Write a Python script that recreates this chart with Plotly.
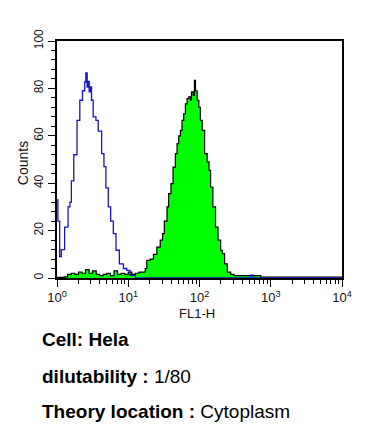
import plotly.graph_objects as go

# Isotype control (blue outline) - FL1-H intensity vs counts
blue_fl1 = [1.0, 1.03, 1.09, 1.15, 1.28, 1.43, 1.52, 1.59, 1.72, 1.91, 2.09, 2.28, 2.45,
            2.54, 2.65, 2.74, 2.83, 2.95, 3.05, 3.22, 3.52, 3.79, 4.23, 4.56, 4.86, 5.25,
            5.66, 6.17, 6.73, 7.50, 8.55, 9.53, 10.6, 12.6, 501, 525, 562, 10000]
blue_counts = [33, 24, 9, 12, 21.5, 30, 32, 41, 52, 66.5, 75, 79, 82.7,
               86.5, 80.6, 83, 78.5, 80.6, 75, 68, 66.5, 62, 52.5, 47, 38, 30,
               24, 18.7, 11.7, 6, 4, 3.2, 1.1, 0, 0, 1.2, 0, 0]

# Antibody stained sample (green filled)
green_fl1 = [1.0, 1.26, 1.41, 1.58, 1.78, 2.0, 2.24, 2.51, 2.82, 3.16, 3.55, 3.98, 4.47,
             5.01, 5.62, 6.31, 7.08, 7.94, 8.91, 10.0, 11.2, 12.6, 14.1, 15.5, 17.3, 18.2,
             20.3, 22.6, 25.2, 28.1, 30.3, 32.1, 35.0, 36.9, 39.8, 42.5, 45.8, 48.4, 51.1,
             54.0, 56.9, 60.1, 63.4, 67.0, 70.6, 74.6, 77.1, 81.5, 84.9, 87.9, 92.7, 97.9,
             103, 109, 118, 128, 136, 143, 154, 168, 182, 198, 209, 225, 246, 274, 305,
             379, 525, 726, 10000]
green_counts = [0.3, 0.5, 1.5, 2, 1.5, 2.5, 2, 3.5, 2, 3, 1.5, 1, 1.5,
                2, 1, 3, 1.5, 2, 1.5, 2.5, 1.5, 2, 2.5, 2.5, 4, 7.5,
                8, 10, 13, 16, 18.7, 24, 30, 35.6, 39.8, 46.8, 52.5, 56.7, 60,
                62.3, 66.5, 69.3, 73.5, 75.7, 76.4, 75, 78.5, 77, 83.4, 79, 75, 72,
                66.5, 62.3, 52.5, 49, 45.4, 38.4, 30, 21.5, 16, 11.7, 10.3, 6, 2.5, 1.5, 1,
                1, 1, 0.4, 0]

y_ticks = [0, 20, 40, 60, 80, 100]
x_ticks = [1, 10, 100, 1000, 10000]
x_ticktext = ["10<sup>0</sup>", "10<sup>1</sup>", "10<sup>2</sup>", "10<sup>3</sup>", "10<sup>4</sup>"]
x_minor = [m * d for d in [1, 10, 100, 1000] for m in range(2, 10)]

FONT = "Liberation Sans, Arial, sans-serif"

fig = go.Figure()
fig.add_trace(go.Scatter(
    x=green_fl1, y=green_counts, mode="lines", fill="tozeroy",
    fillcolor="#00ff00", line=dict(color="black", width=1.2, shape="hv"),
    hoverinfo="skip"))
fig.add_trace(go.Scatter(
    x=blue_fl1, y=blue_counts, mode="lines",
    line=dict(color="#1414c8", width=1.3, shape="hv"),
    hoverinfo="skip"))

fig.update_layout(
    width=369, height=435,
    margin=dict(l=57, r=27, t=41, b=157),
    paper_bgcolor="white", plot_bgcolor="white",
    showlegend=False,
    font=dict(family=FONT, color="#111"),
    xaxis=dict(
        type="log", range=[0, 4], tickmode="array", tickvals=x_ticks, ticktext=x_ticktext,
        ticks="outside", ticklen=7, tickwidth=1.2, tickcolor="black",
        showline=True, linecolor="black", linewidth=1.6, mirror=True,
        showgrid=False, zeroline=False, tickfont=dict(size=13, family=FONT, color="#111"),
        minor=dict(tickvals=x_minor, ticks="outside", ticklen=4, tickwidth=1, tickcolor="black", showgrid=False),
    ),
    yaxis=dict(
        range=[0, 100], tickmode="array", tickvals=y_ticks, tickangle=-90,
        ticks="outside", ticklen=7, tickwidth=1.2, tickcolor="black",
        showline=True, linecolor="black", linewidth=1.6, mirror=True,
        showgrid=False, zeroline=False, tickfont=dict(size=12, family=FONT, color="#111"),
        minor=dict(dtick=4, ticks="outside", ticklen=4, tickwidth=1, tickcolor="black", showgrid=False),
    ),
    annotations=[
        dict(text="FL1-H", x=0.491, y=-0.148, xref="paper", yref="paper",
             showarrow=False, font=dict(size=13, family=FONT, color="#111"),
             xanchor="center", yanchor="middle"),
        dict(text="Counts", x=-0.119, y=0.485, xref="paper", yref="paper", textangle=-90,
             showarrow=False, font=dict(size=14, family=FONT, color="#111"),
             xanchor="center", yanchor="middle"),
        dict(text="<b>Cell: Hela</b>", x=-0.0596, y=-0.2616, xref="paper", yref="paper",
             showarrow=False, font=dict(size=19, family=FONT, color="black"),
             xanchor="left", yanchor="middle"),
        dict(text="<b>dilutability : </b>1/80", x=-0.0596, y=-0.4177, xref="paper", yref="paper",
             showarrow=False, font=dict(size=19, family=FONT, color="black"),
             xanchor="left", yanchor="middle"),
        dict(text="<b>Theory location : </b>Cytoplasm", x=-0.0596, y=-0.5654, xref="paper", yref="paper",
             showarrow=False, font=dict(size=19, family=FONT, color="black"),
             xanchor="left", yanchor="middle"),
    ],
)

fig.write_html("out.html", config={"displayModeBar": False},
               post_script="document.body.style.margin='0';")
